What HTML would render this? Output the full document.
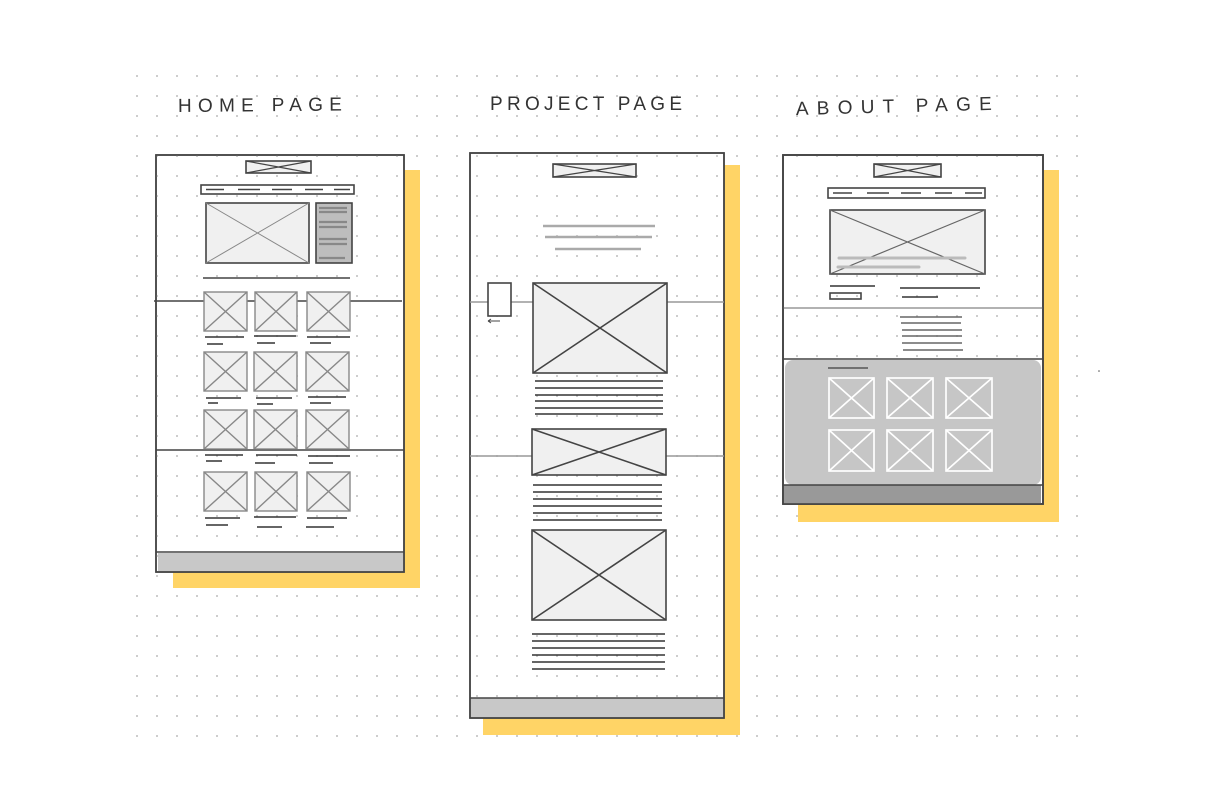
<!DOCTYPE html>
<html><head><meta charset="utf-8"><style>html,body{margin:0;padding:0;background:#fff}svg{display:block}</style></head>
<body>
<svg width="1222" height="810" viewBox="0 0 1222 810" xmlns="http://www.w3.org/2000/svg">
<defs>
<pattern id="dots" x="136" y="75" width="20" height="20" patternUnits="userSpaceOnUse">
<circle cx="1" cy="1" r="1" fill="#bdbdbd"/>
</pattern>
</defs>
<rect x="130" y="70" width="965" height="680" fill="url(#dots)"/>
<g font-family="Liberation Sans, sans-serif" font-size="19" fill="#333">
<text x="178" y="112" textLength="164" lengthAdjust="spacing" transform="rotate(-0.5 178 112)">HOME PAGE</text>
<text x="490" y="110" textLength="192" lengthAdjust="spacing">PROJECT PAGE</text>
<text x="796" y="115" textLength="196" lengthAdjust="spacing" transform="rotate(-1.5 796 115)">ABOUT PAGE</text>
</g>

<rect x="173" y="170" width="247" height="418" fill="#ffd466"/>
<rect x="483" y="165" width="257" height="570" fill="#ffd466"/>
<rect x="798" y="170" width="261" height="352" fill="#ffd466"/>

<g stroke="#444" fill="none" stroke-width="1.6">
<!-- HOME -->
<rect x="156" y="155" width="248" height="417" fill="#fff"/>
<rect x="156" y="155" width="248" height="417" fill="url(#dots)"/>
<rect x="158" y="553" width="245" height="18" fill="#c8c8c8" stroke="none"/>
<line x1="156" y1="552" x2="404" y2="552"/>
<rect x="246" y="161" width="65" height="12" fill="#f0f0f0"/>
<path d="M246 161 L311 173 M246 173 L311 161" stroke-width="1.2"/>
<rect x="201" y="185" width="153" height="9" fill="#fff"/>
<path d="M206 189.5h18 M238 189.5h22 M272 189.5h20 M305 189.5h18 M334 189.5h16" stroke-width="1.4"/>
<rect x="206" y="203" width="103" height="60" fill="#f0f0f0"/>
<path d="M206 203 L309 263 M206 263 L309 203" stroke="#888" stroke-width="1"/>
<rect x="316" y="203" width="36" height="60" fill="#bdbdbd"/>
<path d="M319 208h28 M319 212h28 M319 222h28 M319 227h28 M319 239h28 M319 244h28 M319 258h26" stroke="#888" stroke-width="2.2"/>
<line x1="203" y1="278" x2="350" y2="278"/>
<line x1="154" y1="301" x2="402" y2="301"/>
<line x1="156" y1="450" x2="404" y2="450"/>
<g stroke="#888" stroke-width="1.4" fill="#f0f0f0">
<rect x="204" y="292" width="43" height="39"/><path d="M204 292L247 331M204 331L247 292"/>
<rect x="255" y="292" width="42" height="39"/><path d="M255 292L297 331M255 331L297 292"/>
<rect x="307" y="292" width="43" height="39"/><path d="M307 292L350 331M307 331L350 292"/>
<rect x="204" y="352" width="43" height="39"/><path d="M204 352L247 391M204 391L247 352"/>
<rect x="254" y="352" width="43" height="39"/><path d="M254 352L297 391M254 391L297 352"/>
<rect x="306" y="352" width="43" height="39"/><path d="M306 352L349 391M306 391L349 352"/>
<rect x="204" y="410" width="43" height="39"/><path d="M204 410L247 449M204 449L247 410"/>
<rect x="254" y="410" width="43" height="39"/><path d="M254 410L297 449M254 449L297 410"/>
<rect x="306" y="410" width="43" height="39"/><path d="M306 410L349 449M306 449L349 410"/>
<rect x="204" y="472" width="43" height="39"/><path d="M204 472L247 511M204 511L247 472"/>
<rect x="255" y="472" width="42" height="39"/><path d="M255 472L297 511M255 511L297 472"/>
<rect x="307" y="472" width="43" height="39"/><path d="M307 472L350 511M307 511L350 472"/>
</g>
<path d="M205 337h39 M207 344h16 M254 336h42 M257 343h18 M307 337h43 M310 343h21
M206 398h35 M208 403h10 M256 398h36 M257 404h16 M308 397h38 M310 403h21
M205 455h38 M206 461h16 M256 455h41 M255 463h20 M308 456h42 M309 463h24
M205 518h35 M206 525h22 M254 517h42 M257 527h25 M307 518h40 M306 527h28" stroke="#333" stroke-width="1.5"/>

<!-- PROJECT -->
<rect x="470" y="153" width="254" height="565" fill="#fff"/>
<rect x="470" y="153" width="254" height="565" fill="url(#dots)"/>
<rect x="471" y="698" width="252" height="19" fill="#c8c8c8" stroke="none"/>
<line x1="470" y1="698" x2="724" y2="698"/>
<rect x="553" y="164" width="83" height="13" fill="#f0f0f0"/>
<path d="M553 164L636 177M553 177L636 164" stroke-width="1.2"/>
<path d="M543 226h112 M545 237h107 M555 249h86" stroke="#aaa" stroke-width="2.5"/>
<line x1="470" y1="302" x2="724" y2="302" stroke="#999"/>
<line x1="470" y1="456" x2="724" y2="456" stroke="#999"/>
<rect x="488" y="283" width="23" height="33" fill="#fff"/>
<path d="M488 321h12 M488 321l3 -2 M488 321l3 2" stroke-width="1"/>
<g fill="#f0f0f0">
<rect x="533" y="283" width="134" height="90"/><path d="M533 283L667 373M533 373L667 283"/>
<rect x="532" y="429" width="134" height="46"/><path d="M532 429L666 475M532 475L666 429"/>
<rect x="532" y="530" width="134" height="90"/><path d="M532 530L666 620M532 620L666 530"/>
</g>
<path d="M535 381h128 M535 388h128 M535 395h128 M535 401h128 M535 408h128 M535 414h128
M533 485h129 M533 492h129 M533 499h129 M533 506h129 M533 513h129 M533 520h129
M532 634h133 M532 641h133 M532 648h133 M532 655h133 M532 662h133 M532 669h133" stroke="#333" stroke-width="1.5"/>

<!-- ABOUT -->
<rect x="783" y="155" width="260" height="349" fill="#fff"/>
<rect x="783" y="155" width="260" height="349" fill="url(#dots)"/>
<rect x="785" y="360" width="256" height="125" rx="8" fill="#c6c6c6" stroke="none"/>
<rect x="784" y="485" width="257" height="19" fill="#999" stroke="none"/>
<line x1="783" y1="485" x2="1043" y2="485"/>
<line x1="783" y1="359" x2="1043" y2="359"/>
<line x1="783" y1="308" x2="1043" y2="308" stroke="#999"/>
<rect x="874" y="164" width="67" height="13" fill="#f0f0f0"/>
<path d="M874 164L941 177M874 177L941 164" stroke-width="1.2"/>
<rect x="828" y="188" width="157" height="10" fill="#fff"/>
<path d="M833 193h19 M867 193h22 M901 193h20 M935 193h17 M965 193h17" stroke-width="1.4"/>
<rect x="830" y="210" width="155" height="64" fill="#f0f0f0"/>
<path d="M830 210L985 274M830 274L985 210" stroke="#666" stroke-width="1.2"/>
<path d="M839 258h126 M838 267h81" stroke="#bbb" stroke-width="3" stroke-linecap="round"/>
<path d="M830 286h45 M900 288h80 M902 297h36" stroke="#333" stroke-width="1.5"/>
<rect x="830" y="293" width="31" height="6"/>
<path d="M900 317h62 M901 323h60 M902 330h60 M902 336h60 M902 343h60 M903 350h60" stroke="#666" stroke-width="1.5"/>
<path d="M828 368h40" stroke="#555" stroke-width="1.6"/>
<g stroke="#fff" stroke-width="1.7">
<rect x="829" y="378" width="45" height="40"/><path d="M829 378L874 418M829 418L874 378"/>
<rect x="887" y="378" width="46" height="40"/><path d="M887 378L933 418M887 418L933 378"/>
<rect x="946" y="378" width="46" height="40"/><path d="M946 378L992 418M946 418L992 378"/>
<rect x="829" y="430" width="45" height="41"/><path d="M829 430L874 471M829 471L874 430"/>
<rect x="887" y="430" width="46" height="41"/><path d="M887 430L933 471M887 471L933 430"/>
<rect x="946" y="430" width="46" height="41"/><path d="M946 430L992 471M946 471L992 430"/>
</g>
<rect x="783" y="155" width="260" height="349" fill="none"/>
</g>
<circle cx="1099" cy="371" r="0.8" fill="#555"/>
</svg>
</body></html>
